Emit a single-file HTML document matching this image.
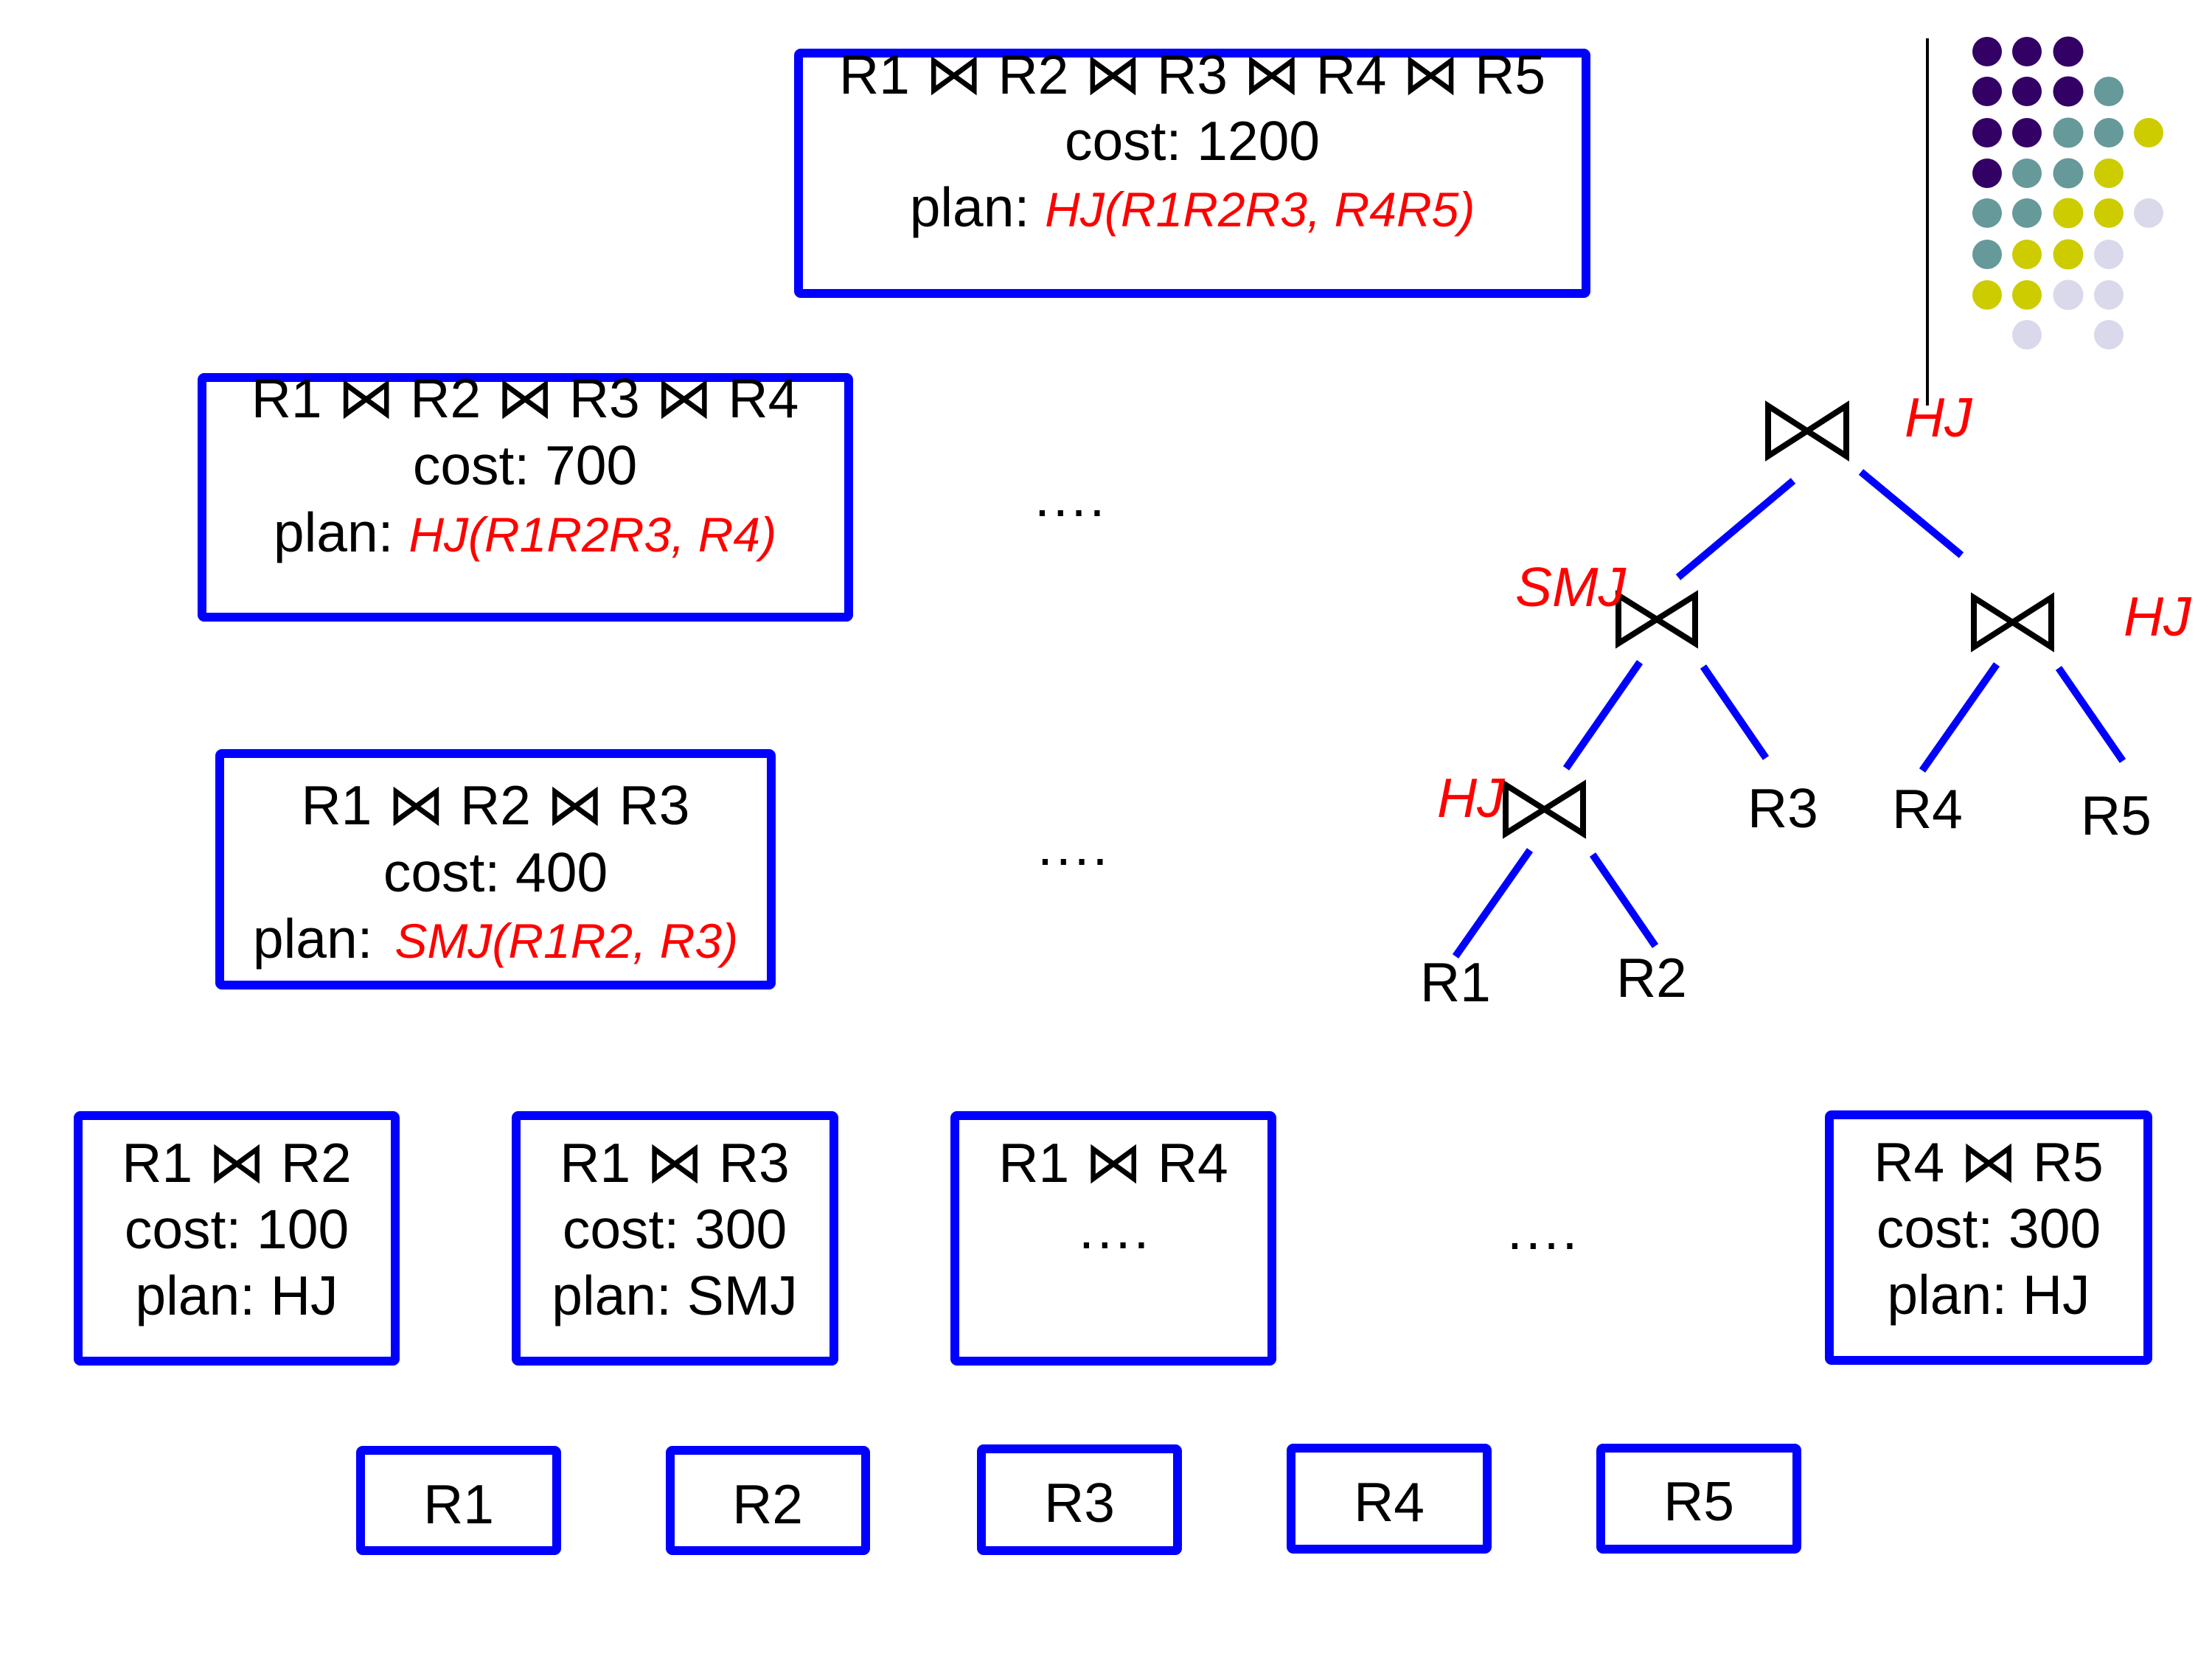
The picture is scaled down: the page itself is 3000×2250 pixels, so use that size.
<!DOCTYPE html>
<html>
<head>
<meta charset="utf-8">
<style>
  html, body { margin: 0; padding: 0; background: #ffffff; }
  svg { display: block; }
  .t { font-family: "Liberation Sans", Arial, sans-serif; font-size: 75px; fill: #000; white-space: pre; }
  .r { fill: #ff0000; font-style: italic; }
  .rs { fill: #ff0000; font-style: italic; font-size: 66px; }
  .bt { font-family: "DejaVu Sans", sans-serif; font-size: 78px; }
  .box { fill: none; stroke: #0000ff; stroke-width: 12; }
  .edge { stroke: #0000ff; stroke-width: 10; stroke-linecap: butt; }
  .tie { fill: none; stroke: #000; stroke-width: 8; stroke-linejoin: miter; stroke-miterlimit: 10; }
</style>
</head>
<body>
<svg width="3000" height="2250" viewBox="0 0 3000 2250" xmlns="http://www.w3.org/2000/svg">
  <rect x="0" y="0" width="3000" height="2250" fill="#ffffff"/>

  <!-- decorative dots -->
  <g>
    <circle cx="2695" cy="70" r="20" fill="#330066"/>
    <circle cx="2749" cy="70" r="20" fill="#330066"/>
    <circle cx="2805" cy="70" r="20.5" fill="#330066"/>

    <circle cx="2695" cy="124" r="20" fill="#330066"/>
    <circle cx="2749" cy="124" r="20" fill="#330066"/>
    <circle cx="2805" cy="124" r="20.5" fill="#330066"/>
    <circle cx="2860" cy="124" r="20" fill="#669999"/>

    <circle cx="2695" cy="180" r="20" fill="#330066"/>
    <circle cx="2749" cy="180" r="20" fill="#330066"/>
    <circle cx="2805" cy="180" r="20.5" fill="#669999"/>
    <circle cx="2860" cy="180" r="20" fill="#669999"/>
    <circle cx="2914" cy="180" r="20" fill="#cccc00"/>

    <circle cx="2695" cy="235" r="20" fill="#330066"/>
    <circle cx="2749" cy="235" r="20" fill="#669999"/>
    <circle cx="2805" cy="235" r="20.5" fill="#669999"/>
    <circle cx="2860" cy="235" r="20" fill="#cccc00"/>

    <circle cx="2695" cy="289" r="20" fill="#669999"/>
    <circle cx="2749" cy="289" r="20" fill="#669999"/>
    <circle cx="2805" cy="289" r="20.5" fill="#cccc00"/>
    <circle cx="2860" cy="289" r="20" fill="#cccc00"/>
    <circle cx="2914" cy="289" r="20" fill="#d9d9eb"/>

    <circle cx="2695" cy="345" r="20" fill="#669999"/>
    <circle cx="2749" cy="345" r="20" fill="#cccc00"/>
    <circle cx="2805" cy="345" r="20.5" fill="#cccc00"/>
    <circle cx="2860" cy="345" r="20" fill="#d9d9eb"/>

    <circle cx="2695" cy="400" r="20" fill="#cccc00"/>
    <circle cx="2749" cy="400" r="20" fill="#cccc00"/>
    <circle cx="2805" cy="400" r="20.5" fill="#d9d9eb"/>
    <circle cx="2860" cy="400" r="20" fill="#d9d9eb"/>

    <circle cx="2749" cy="454" r="20" fill="#d9d9eb"/>
    <circle cx="2860" cy="454" r="20" fill="#d9d9eb"/>
  </g>

  <!-- vertical divider line -->
  <line x1="2614" y1="52" x2="2614" y2="550" stroke="#000" stroke-width="4"/>

  <!-- Top box -->
  <rect class="box" x="1083" y="72" width="1068" height="326" rx="3"/>
  <text class="t" x="1617" y="127" text-anchor="middle">R1 <tspan class="bt">⋈</tspan> R2 <tspan class="bt">⋈</tspan> R3 <tspan class="bt">⋈</tspan> R4 <tspan class="bt">⋈</tspan> R5</text>
  <text class="t" x="1617" y="217" text-anchor="middle">cost: 1200</text>
  <text class="t" x="1617" y="307" text-anchor="middle">plan: <tspan class="rs">HJ(R1R2R3, R4R5)</tspan></text>

  <!-- Box R1..R4 -->
  <rect class="box" x="274" y="512" width="877" height="325" rx="3"/>
  <text class="t" x="712" y="566" text-anchor="middle">R1 <tspan class="bt">⋈</tspan> R2 <tspan class="bt">⋈</tspan> R3 <tspan class="bt">⋈</tspan> R4</text>
  <text class="t" x="712" y="657" text-anchor="middle">cost: 700</text>
  <text class="t" x="712" y="748" text-anchor="middle">plan: <tspan class="rs">HJ(R1R2R3, R4)</tspan></text>

  <!-- Box R1..R3 -->
  <rect class="box" x="298" y="1022" width="748" height="314" rx="3"/>
  <text class="t" x="672" y="1118" text-anchor="middle">R1 <tspan class="bt">⋈</tspan> R2 <tspan class="bt">⋈</tspan> R3</text>
  <text class="t" x="672" y="1209" text-anchor="middle">cost: 400</text>
  <text class="t" x="672" y="1299" text-anchor="middle">plan: <tspan class="rs" dx="9">SMJ(R1R2, R3)</tspan></text>

  <!-- ellipses middle -->
  <text class="t" x="1403" y="700" letter-spacing="4">....</text>
  <text class="t" x="1407" y="1173" letter-spacing="4">....</text>

  <!-- Bottom row 2-way boxes -->
  <rect class="box" x="106" y="1513" width="430" height="333" rx="3"/>
  <text class="t" x="321" y="1603" text-anchor="middle">R1 <tspan class="bt">⋈</tspan> R2</text>
  <text class="t" x="321" y="1693" text-anchor="middle">cost: 100</text>
  <text class="t" x="321" y="1783" text-anchor="middle">plan: HJ</text>

  <rect class="box" x="700" y="1513" width="431" height="333" rx="3"/>
  <text class="t" x="915" y="1603" text-anchor="middle">R1 <tspan class="bt">⋈</tspan> R3</text>
  <text class="t" x="915" y="1693" text-anchor="middle">cost: 300</text>
  <text class="t" x="915" y="1783" text-anchor="middle">plan: SMJ</text>

  <rect class="box" x="1295" y="1513" width="430" height="333" rx="3"/>
  <text class="t" x="1510" y="1603" text-anchor="middle">R1 <tspan class="bt">⋈</tspan> R4</text>
  <text class="t" x="1463" y="1693" letter-spacing="4">....</text>

  <text class="t" x="2044" y="1694" letter-spacing="4">....</text>

  <rect class="box" x="2481" y="1512" width="432" height="333" rx="3"/>
  <text class="t" x="2697" y="1602" text-anchor="middle">R4 <tspan class="bt">⋈</tspan> R5</text>
  <text class="t" x="2697" y="1692" text-anchor="middle">cost: 300</text>
  <text class="t" x="2697" y="1782" text-anchor="middle">plan: HJ</text>

  <!-- Base relation boxes -->
  <rect class="box" x="489" y="1967" width="266" height="136" rx="3"/>
  <text class="t" x="622" y="2066" text-anchor="middle">R1</text>
  <rect class="box" x="909" y="1967" width="265" height="136" rx="3"/>
  <text class="t" x="1041" y="2066" text-anchor="middle">R2</text>
  <rect class="box" x="1331" y="1965" width="266" height="138" rx="3"/>
  <text class="t" x="1464" y="2064" text-anchor="middle">R3</text>
  <rect class="box" x="1751" y="1964" width="266" height="137" rx="3"/>
  <text class="t" x="1884" y="2063" text-anchor="middle">R4</text>
  <rect class="box" x="2171" y="1964" width="266" height="137" rx="3"/>
  <text class="t" x="2304" y="2062" text-anchor="middle">R5</text>

  <!-- Join tree: bowties -->
  <path class="tie" d="M2398,550.5 L2504,618.5 L2504,550.5 L2398,618.5 Z"/>
  <path class="tie" d="M2195,807.5 L2299,872.5 L2299,807.5 L2195,872.5 Z"/>
  <path class="tie" d="M2677,810.5 L2782,877.5 L2782,810.5 L2677,877.5 Z"/>
  <path class="tie" d="M2042,1064.5 L2147,1130.5 L2147,1064.5 L2042,1130.5 Z"/>

  <!-- Join tree: edges -->
  <line class="edge" x1="2432" y1="652" x2="2276" y2="783"/>
  <line class="edge" x1="2524" y1="640" x2="2660" y2="753"/>
  <line class="edge" x1="2224" y1="898" x2="2124" y2="1042"/>
  <line class="edge" x1="2310" y1="904" x2="2395" y2="1028"/>
  <line class="edge" x1="2708" y1="901" x2="2607" y2="1045"/>
  <line class="edge" x1="2792" y1="906" x2="2879" y2="1032"/>
  <line class="edge" x1="2075" y1="1153" x2="1974" y2="1297"/>
  <line class="edge" x1="2160" y1="1159" x2="2245" y2="1283"/>

  <!-- Join tree: labels -->
  <text class="t r" x="2583" y="592">HJ</text>
  <text class="t r" x="2055" y="822">SMJ</text>
  <text class="t r" x="2880" y="862">HJ</text>
  <text class="t r" x="1949" y="1108">HJ</text>

  <text class="t" x="2370" y="1122">R3</text>
  <text class="t" x="2566" y="1123">R4</text>
  <text class="t" x="2822" y="1132">R5</text>
  <text class="t" x="1926" y="1358">R1</text>
  <text class="t" x="2192" y="1352">R2</text>
</svg>
</body>
</html>
